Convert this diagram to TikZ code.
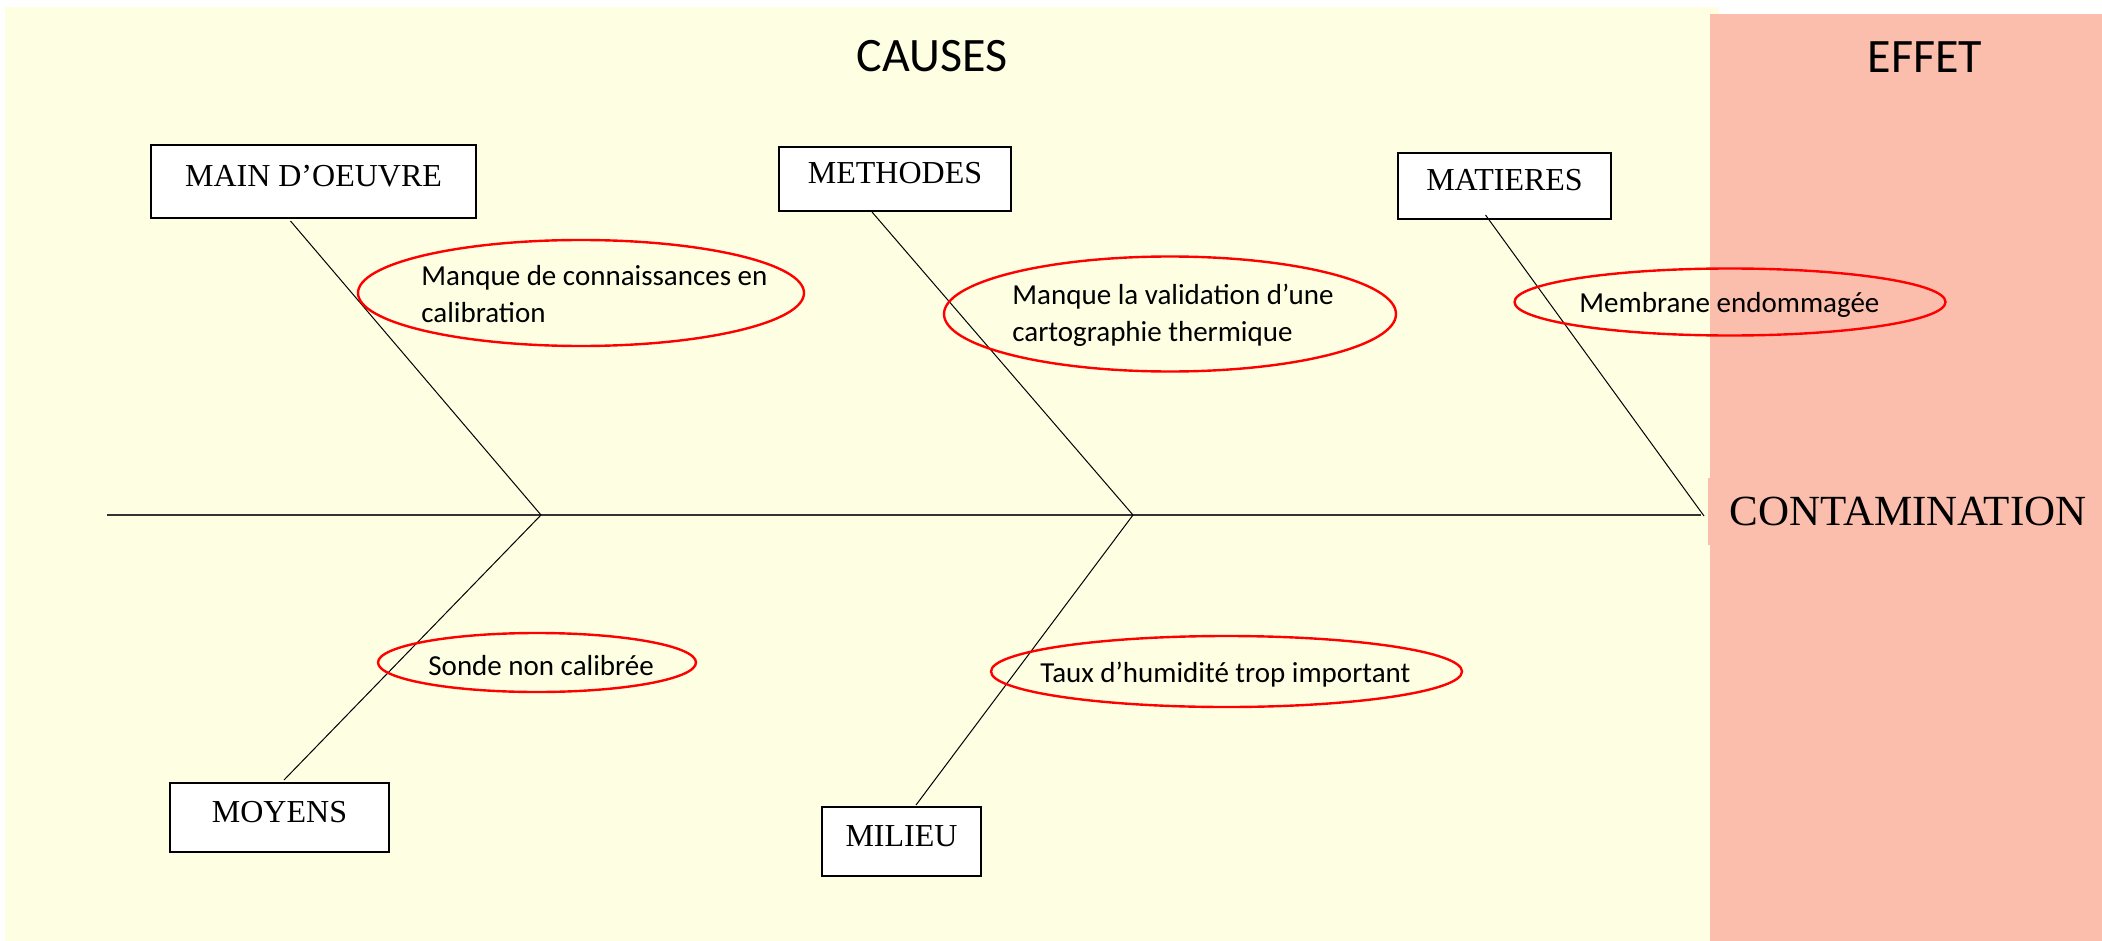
\documentclass[tikz,border=0pt]{standalone}
\usepackage{fontspec}
\setmainfont{Liberation Serif}
\newfontfamily\calibri{Carlito}
\usetikzlibrary{shapes.geometric,calc}
\definecolor{causebg}{HTML}{FEFEE2}
\definecolor{effetbg}{HTML}{FBBEAC}
\definecolor{spinecol}{HTML}{333333}
\tikzset{
  catbox/.style={draw=black, line width=1pt, fill=white, font=\fontsize{16}{19}\selectfont,
    text height=10.5pt, text depth=5.5pt, inner sep=0pt},
  bone/.style={line width=0.5pt, black},
  spine/.style={line width=0.8pt, spinecol},
  causeell/.style={ellipse, draw=red, line width=1.2pt, inner sep=0pt},
  causetext/.style={font=\calibri\fontsize{14.5}{18.5}\selectfont, inner sep=0pt, align=left},
  heading/.style={font=\calibri\fontsize{24}{28}\selectfont, inner sep=0pt},
}
\begin{document}
\begin{tikzpicture}[x=0.5pt,y=-0.5pt]
\useasboundingbox (0,0) rectangle (2102,941);
\fill[causebg] (4.5,7.5) rectangle (1719,941);
\fill[effetbg] (1710,14) rectangle (2102,941);

\node[heading, anchor=base] (causes) at (932,72) {CAUSES};
\node[heading, anchor=base] (effet) at (1925,73) {EFFET};

\node[catbox, minimum width=162.5pt, minimum height=36.5pt] (main) at (313.5,181.5) {MAIN D’OEUVRE};
\node[catbox, minimum width=116pt, minimum height=32pt] (methodes) at (895,179) {METHODES};
\node[catbox, minimum width=106.5pt, minimum height=33pt] (matieres) at (1504.5,186) {MATIERES};
\node[catbox, minimum width=109.5pt, minimum height=34.5pt] (moyens) at (279.5,817.5) {MOYENS};
\node[catbox, minimum width=79.5pt, minimum height=34.5pt] (milieu) at (901.5,841.5) {MILIEU};
\node[fill=effetbg, inner xsep=10.5pt, inner ysep=0pt, minimum height=33.5pt, anchor=west,
  font=\fontsize{21.5}{24}\selectfont] (contam) at (1708,511.5) {CONTAMINATION};

\coordinate (tail) at (107,515);
\coordinate (j1) at (541,515);
\coordinate (j2) at (1133,515);
\coordinate (head) at (1701,515);
\coordinate (j3) at (1704,516);

\draw[spine] (tail) -- (head);
\draw[bone] ($(main.south)+(-23,2)$) -- (j1);
\draw[bone] (j1) -- ($(moyens.north)+(4.5,-2)$);
\draw[bone] ($(methodes.south)+(-23,0)$) -- (j2);
\draw[bone] (j2) -- ($(milieu.north)+(14.5,-1)$);
\draw[bone] ($(matieres.south)+(-19,-5)$) -- (j3);

\node[causeell, minimum width=223pt, minimum height=53pt] (e1) at (581,293) {};
\node[causetext, anchor=base west] (t1) at (421,322) {Manque de connaissances en\\calibration};
\node[causeell, minimum width=226pt, minimum height=57.5pt] (e2) at (1170,314) {};
\node[causetext, anchor=base west] (t2) at (1012,341) {Manque la validation d’une\\cartographie thermique};
\node[causeell, minimum width=215.5pt, minimum height=33.5pt] (e3) at (1730,302) {};
\node[causetext, anchor=base west] (t3) at (1579,312) {Membrane endommagée};
\node[causeell, minimum width=159pt, minimum height=29.5pt] (e4) at (537,662.5) {};
\node[causetext, anchor=base west] (t4) at (428,675) {Sonde non calibrée};
\node[causeell, minimum width=235.5pt, minimum height=35.5pt] (e5) at (1226.5,671.5) {};
\node[causetext, anchor=base west] (t5) at (1040,682) {Taux d’humidité trop important};
\end{tikzpicture}
\end{document}
